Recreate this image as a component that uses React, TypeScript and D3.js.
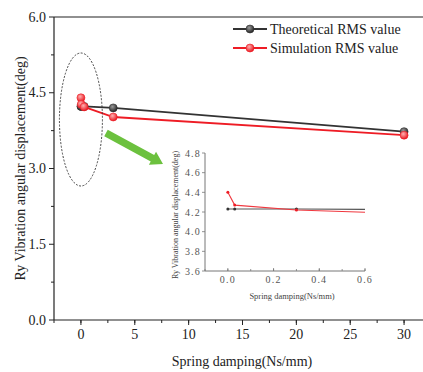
import React from "react";
import * as d3 from "d3";

const dampingX = [0, 0.03, 0.3, 3, 30];
const theoreticalY = [4.23, 4.23, 4.23, 4.2, 3.73];
const simulationY = [4.4, 4.27, 4.22, 4.02, 3.66];
const seriesNames = ["Theoretical RMS value", "Simulation RMS value"];
const mainXTicks = [0, 5, 10, 15, 20, 25, 30];
const mainYTicks = [0, 1.5, 3.0, 4.5, 6.0];
const insetXTicks = [0, 0.2, 0.4, 0.6];
const insetYTicks = [3.6, 3.8, 4.0, 4.2, 4.4, 4.6, 4.8];

const W = 423, H = 372;
const serif = "'Liberation Serif', 'DejaVu Serif', serif";
const BLACK = "#333333";
const RED = "#ee1c25";

export default function App() {
  const x = d3.scaleLinear().domain([-2.5, 32.5]).range([54, 431]);
  const y = d3.scaleLinear().domain([0, 6]).range([320, 17]);
  const ix = d3.scaleLinear().domain([-0.1, 0.6]).range([205, 365]);
  const iy = d3.scaleLinear().domain([3.6, 4.8]).range([271, 153]);

  const pts = (ys: number[]) => dampingX.map((d, i) => [d, ys[i]] as [number, number]);
  const mainLine = d3.line<[number, number]>().x(d => x(d[0])).y(d => y(d[1]));
  const insetLine = d3.line<[number, number]>().x(d => ix(d[0])).y(d => iy(d[1]));

  const series = [
    { name: seriesNames[0], data: pts(theoreticalY), color: BLACK, grad: "gBlack", inset: "#555" },
    { name: seriesNames[1], data: pts(simulationY), color: RED, grad: "gRed", inset: "#f0383f" },
  ];

  const xMinor = d3.range(-2.5, 32.6, 2.5);
  const yMinor = d3.range(0.75, 6, 1.5);
  const ixMinor = d3.range(-0.1, 0.61, 0.1);

  // arrow
  const a0 = [106, 133], a1 = [163, 164];
  const dx = a1[0] - a0[0], dy = a1[1] - a0[1];
  const L = Math.hypot(dx, dy);
  const u = [dx / L, dy / L], p = [-u[1], u[0]];
  const hb = [a1[0] - u[0] * 12, a1[1] - u[1] * 12];
  const sw = 3.6, hw = 7.5;
  const arrowPts = [
    [a0[0] + p[0] * sw, a0[1] + p[1] * sw],
    [hb[0] + p[0] * sw, hb[1] + p[1] * sw],
    [hb[0] + p[0] * hw, hb[1] + p[1] * hw],
    a1,
    [hb[0] - p[0] * hw, hb[1] - p[1] * hw],
    [hb[0] - p[0] * sw, hb[1] - p[1] * sw],
    [a0[0] - p[0] * sw, a0[1] - p[1] * sw],
  ].map(q => q.join(",")).join(" ");

  const fmt1 = d3.format(".1f");

  return (
    <svg width={W} height={H} style={{ position: "absolute", left: 0, top: 0, background: "#fff" }} fontFamily={serif}>
      <defs>
        <radialGradient id="gBlack" cx="40%" cy="35%" r="65%">
          <stop offset="0%" stopColor="#9a9a9a" />
          <stop offset="100%" stopColor="#222" />
        </radialGradient>
        <radialGradient id="gRed" cx="40%" cy="35%" r="65%">
          <stop offset="0%" stopColor="#ffb0b0" />
          <stop offset="100%" stopColor="#e81820" />
        </radialGradient>
        <clipPath id="insetClip">
          <rect x={ix(-0.1)} y={iy(4.8)} width={ix(0.6) - ix(-0.1)} height={iy(3.6) - iy(4.8)} />
        </clipPath>
      </defs>

      {/* frame */}
      <line x1={54} x2={W} y1={17} y2={17} stroke="#222" strokeWidth={1.2} />
      <line x1={54} x2={54} y1={17} y2={320} stroke="#222" strokeWidth={1.2} />
      <line x1={54} x2={W} y1={320} y2={320} stroke="#222" strokeWidth={1.2} />

      {/* x ticks */}
      {xMinor.map(v => (
        <line key={"xm" + v} x1={x(v)} x2={x(v)} y1={320} y2={323} stroke="#222" strokeWidth={1} />
      ))}
      {mainXTicks.map(v => (
        <g key={"xt" + v}>
          <line x1={x(v)} x2={x(v)} y1={320} y2={325} stroke="#222" strokeWidth={1} />
          <text x={x(v)} y={339} textAnchor="middle" fontSize={14} fill="#222">{v}</text>
        </g>
      ))}
      {/* y ticks */}
      {yMinor.map(v => (
        <line key={"ym" + v} x1={51} x2={54} y1={y(v)} y2={y(v)} stroke="#222" strokeWidth={1} />
      ))}
      {mainYTicks.map(v => (
        <g key={"yt" + v}>
          <line x1={49} x2={54} y1={y(v)} y2={y(v)} stroke="#222" strokeWidth={1} />
          <text x={46} y={y(v) + 4.5} textAnchor="end" fontSize={14} fill="#222">{fmt1(v)}</text>
        </g>
      ))}

      {/* axis labels */}
      <text x={242} y={366} textAnchor="middle" fontSize={14} fill="#222">Spring damping(Ns/mm)</text>
      <text transform={`translate(25,${(17 + 320) / 2}) rotate(-90)`} textAnchor="middle" fontSize={14} fill="#222">
        Ry Vibration angular displacement(deg)
      </text>

      {/* main series */}
      {series.map(s => (
        <g key={s.name}>
          <path d={mainLine(s.data) || ""} fill="none" stroke={s.color} strokeWidth={1.8} />
          {s.data.map((d, i) => (
            <circle key={i} cx={x(d[0])} cy={y(d[1])} r={4} fill={`url(#${s.grad})`} stroke={s.color} strokeWidth={0.6} />
          ))}
        </g>
      ))}

      {/* legend */}
      {series.map((s, i) => {
        const ly = 29 + i * 19;
        return (
          <g key={"lg" + i}>
            <line x1={233} x2={267} y1={ly} y2={ly} stroke={s.color} strokeWidth={1.8} />
            <circle cx={250} cy={ly} r={4} fill={`url(#${s.grad})`} stroke={s.color} strokeWidth={0.6} />
            <text x={270} y={ly + 5} fontSize={14} fill="#222">{s.name}</text>
          </g>
        );
      })}

      {/* dashed ellipse */}
      <ellipse cx={x(0)} cy={119.5} rx={21.5} ry={66.5} fill="none" stroke="#333" strokeWidth={0.9} strokeDasharray="2,1.5" />

      {/* green arrow */}
      <polygon points={arrowPts} fill="#6cc13e" />

      {/* inset */}
      <line x1={ix(-0.1)} x2={ix(-0.1)} y1={iy(4.8)} y2={iy(3.6)} stroke="#777" strokeWidth={1} />
      <line x1={ix(-0.1)} x2={ix(0.6)} y1={iy(3.6)} y2={iy(3.6)} stroke="#777" strokeWidth={1} />
      {ixMinor.map((v, i) => (
        <line key={"ixm" + i} x1={ix(v)} x2={ix(v)} y1={iy(3.6)} y2={iy(3.6) - 2} stroke="#777" strokeWidth={0.8} />
      ))}
      {insetXTicks.map(v => (
        <g key={"ixt" + v}>
          <line x1={ix(v)} x2={ix(v)} y1={iy(3.6)} y2={iy(3.6) - 3} stroke="#777" strokeWidth={0.8} />
          <text x={ix(v)} y={iy(3.6) + 12} textAnchor="middle" fontSize={10} letterSpacing={1.2} fill="#555">{fmt1(v)}</text>
        </g>
      ))}
      {insetYTicks.map(v => (
        <g key={"iyt" + v}>
          <line x1={ix(-0.1) - 3} x2={ix(-0.1)} y1={iy(v)} y2={iy(v)} stroke="#777" strokeWidth={0.8} />
          <text x={ix(-0.1) - 4} y={iy(v) + 3.5} textAnchor="end" fontSize={10} letterSpacing={1.2} fill="#555">{fmt1(v)}</text>
        </g>
      ))}
      <text x={292} y={299} textAnchor="middle" fontSize={8.5} fill="#444">Spring damping(Ns/mm)</text>
      <text transform={`translate(178,215) rotate(-90)`} textAnchor="middle" fontSize={8} fill="#444">
        Ry Vibration angular displacement(deg)
      </text>
      <g clipPath="url(#insetClip)">
        {series.map(s => (
          <g key={"in" + s.name}>
            <path d={insetLine(s.data) || ""} fill="none" stroke={s.inset} strokeWidth={1.1} />
            {s.data.filter(d => d[0] <= 0.6).map((d, i) => (
              <circle key={i} cx={ix(d[0])} cy={iy(d[1])} r={1.5} fill={s.color} />
            ))}
          </g>
        ))}
      </g>
    </svg>
  );
}
